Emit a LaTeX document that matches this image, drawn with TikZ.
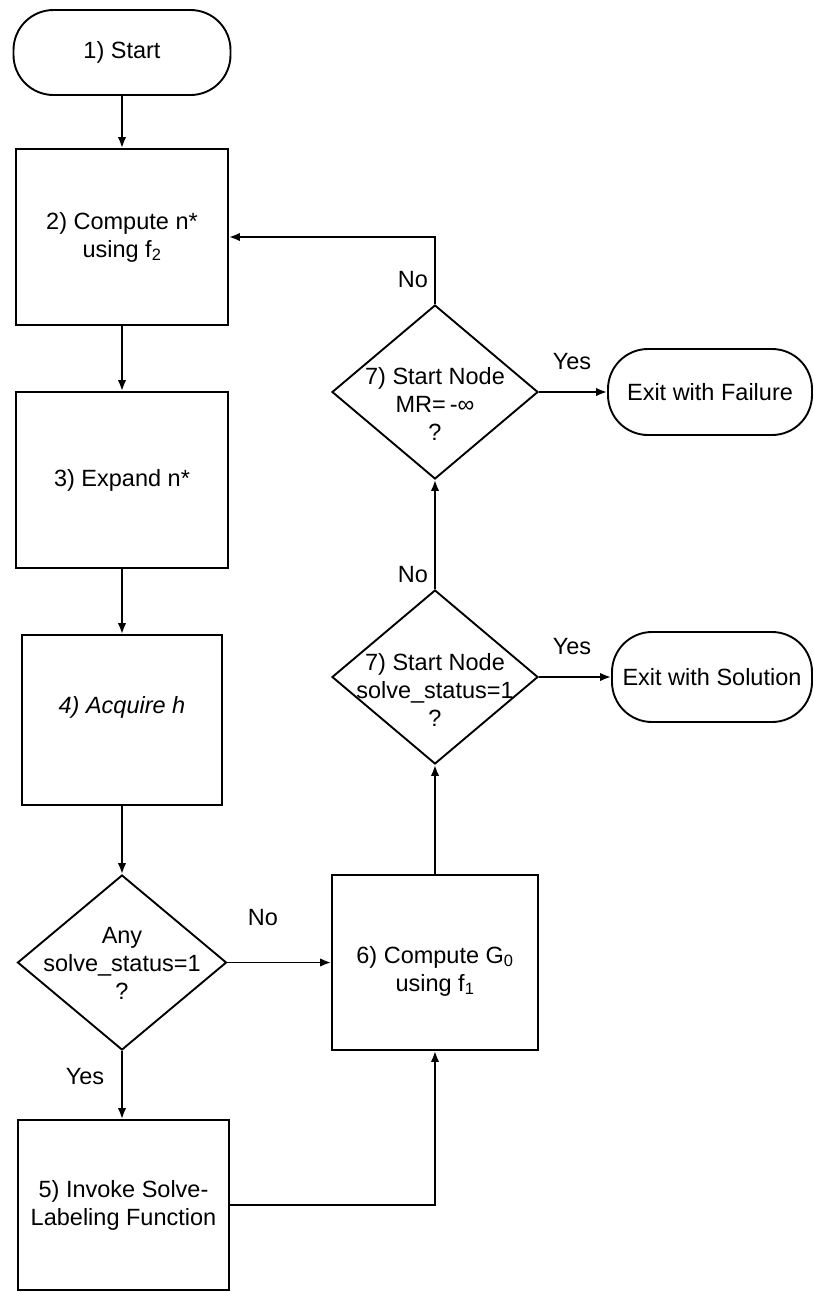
\documentclass[tikz,border=0pt]{standalone}
\usepackage{fontspec}
\setmainfont{Liberation Sans}
\usetikzlibrary{arrows.meta,shapes.geometric}

\tikzset{
  txtfont/.style={font=\fontsize{23.5pt}{28pt}\selectfont},
  outline/.style={draw=black, line width=1.9pt, inner sep=0pt},
  procbox/.style={outline, rectangle, txtfont, align=center},
  terminal/.style={outline, rectangle, rounded corners=40pt, txtfont, align=center},
  decide/.style={outline, diamond},
  words/.style={txtfont, align=center, inner sep=0pt},
  flow/.style={line width=1.9pt, -{Latex[length=11pt,width=8.5pt]}},
  branch/.style={txtfont, inner sep=0pt}
}

\begin{document}
\begin{tikzpicture}[x=1pt, y=-1pt]
  \useasboundingbox (0,0) rectangle (814,1294);

  % left column
  \node[terminal, minimum width=217pt, minimum height=85pt] (start) at (122,52.5) {1) Start};
  \node[procbox, minimum width=212pt, minimum height=176pt] (p2) at (122,237) {2) Compute n*\\using f\textsubscript{2}};
  \node[procbox, minimum width=212pt, minimum height=176pt] (p3) at (122,480) {3) Expand n*};
  \node[procbox, minimum width=200pt, minimum height=170pt] (p4) at (122,720) {};
  \node[words] (p4t) at (122,707) {\itshape 4) Acquire h};
  \node[decide, minimum width=209pt, minimum height=175pt] (qa) at (122,962.5) {};
  \node[words] (qat) at (122,963) {Any\\solve\_status=1\\?};
  \node[procbox, minimum width=211pt, minimum height=170pt] (p5) at (123.5,1205) {5) Invoke Solve-\\Labeling Function};

  % right column
  \node[procbox, minimum width=206pt, minimum height=175pt] (p6) at (435,962.5) {};
  \node[words] (p6t) at (435,971) {6) Compute G\textsubscript{0}\\using f\textsubscript{1}};
  \node[decide, minimum width=206pt, minimum height=174pt] (q7b) at (435,677) {};
  \node[words] (q7bt) at (435,690) {7) Start Node\\solve\_status=1\\?};
  \node[decide, minimum width=206pt, minimum height=174pt] (q7a) at (435,392) {};
  \node[words] (q7at) at (435,404) {7) Start Node\\MR=\,-∞\\?};

  % exits
  \node[terminal, minimum width=204pt, minimum height=86pt] (fail) at (710,392) {Exit with Failure};
  \node[terminal, minimum width=200pt, minimum height=90pt] (sol) at (712,677) {Exit with Solution};

  % connectors
  \draw[flow] (start) -- (p2);
  \draw[flow] (p2) -- (p3);
  \draw[flow] (p3) -- (p4);
  \draw[flow] (p4) -- (qa);
  \draw[flow] (qa.south) -- (qa.south |- p5.north);
  \draw[flow] (qa.east) -- (qa.east -| p6.west);
  \draw[flow] (p5.east) -| (p6.south);
  \draw[flow] (p6.north) -- (q7b.south);
  \draw[flow] (q7b.north) -- (q7a.south);
  \draw[flow] (q7b.east) -- (sol.west);
  \draw[flow] (q7a.east) -- (fail.west);
  \draw[flow] (q7a.north) |- (p2.east);

  % branch labels
  \node[branch] (lnoA) at (413,280) {No};
  \node[branch] (lnoB) at (413,575) {No};
  \node[branch] (lyesA) at (572,362) {Yes};
  \node[branch] (lyesB) at (572,647) {Yes};
  \node[branch] (lnoC) at (263,918) {No};
  \node[branch] (lyesC) at (85,1077) {Yes};
\end{tikzpicture}
\end{document}
